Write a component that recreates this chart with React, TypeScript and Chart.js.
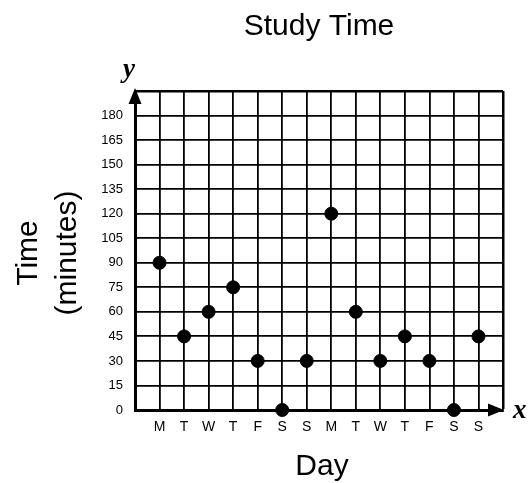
import React, { useEffect, useRef } from "react";
import { Chart, registerables } from "chart.js";

Chart.register(...registerables);

const days = ["M", "T", "W", "T", "F", "S", "S", "M", "T", "W", "T", "F", "S", "S"];
const minutes = [90, 45, 60, 75, 30, 0, 30, 120, 60, 30, 45, 30, 0, 45];
const yTickMax = 180;
const yStep = 15;

const SANS = "'Liberation Sans', Arial, Helvetica, sans-serif";
const SERIF = "'Liberation Serif', 'Times New Roman', serif";

const decorPlugin = {
  id: "decor",
  afterDraw(chart: any) {
    const { ctx, chartArea } = chart;
    const { left, right, top, bottom } = chartArea;
    ctx.save();
    ctx.fillStyle = "#000";
    // arrows
    ctx.beginPath();
    ctx.moveTo(left, top - 3);
    ctx.lineTo(left - 6.5, top + 13);
    ctx.lineTo(left + 6.5, top + 13);
    ctx.closePath();
    ctx.fill();
    ctx.beginPath();
    ctx.moveTo(right + 1, bottom);
    ctx.lineTo(right - 15, bottom - 6.5);
    ctx.lineTo(right - 15, bottom + 6.5);
    ctx.closePath();
    ctx.fill();
    // title
    ctx.textAlign = "center";
    ctx.textBaseline = "alphabetic";
    ctx.font = `30px ${SANS}`;
    ctx.fillText("Study Time", (left + right) / 2, 35);
    ctx.fillText("Day", (left + right) / 2 + 3, 475);
    // y title
    ctx.save();
    ctx.translate(37, 253);
    ctx.rotate(-Math.PI / 2);
    ctx.fillText("Time", 0, 0);
    ctx.restore();
    ctx.save();
    ctx.translate(76, 253);
    ctx.rotate(-Math.PI / 2);
    ctx.fillText("(minutes)", 0, 0);
    ctx.restore();
    // axis letters
    ctx.font = `italic bold 27px ${SERIF}`;
    ctx.textAlign = "center";
    ctx.fillText("y", left - 6, 77);
    ctx.textAlign = "left";
    ctx.fillText("x", right + 10, bottom + 8);
    ctx.restore();
  },
};

export default function App() {
  const ref = useRef<HTMLCanvasElement | null>(null);
  useEffect(() => {
    if (!ref.current) return;
    const chart = new Chart(ref.current, {
      type: "scatter",
      data: {
        datasets: [
          {
            data: minutes.map((v, i) => ({ x: i, y: v })),
            backgroundColor: "#000",
            borderColor: "#000",
            pointRadius: 6.5,
            pointHoverRadius: 6.5,
            clip: false as any,
          },
        ],
      },
      options: {
        animation: false,
        responsive: true,
        maintainAspectRatio: false,
        layout: { padding: { top: 91, right: 26, left: 0, bottom: 0 } },
        plugins: { legend: { display: false }, tooltip: { enabled: false }, title: { display: false } },
        scales: {
          x: {
            type: "linear",
            min: -1,
            max: days.length,
            afterFit(scale: any) {
              scale.height = 73;
            },
            ticks: {
              stepSize: 1,
              autoSkip: false,
              maxRotation: 0,
              padding: 9,
              color: "#000",
              font: { family: SANS, size: 14 },
              callback: (v: any) => {
                const i = Number(v);
                return i >= 0 && i < days.length ? days[i] : "";
              },
            },
            grid: {
              color: "#000",
              drawTicks: false,
              lineWidth: (c: any) => (c.tick && c.tick.value === days.length ? 2.5 : 1.8),
            },
            border: { display: true, color: "#000", width: 3 },
          },
          y: {
            type: "linear",
            min: 0,
            max: yTickMax + yStep,
            afterFit(scale: any) {
              scale.width = 135;
            },
            ticks: {
              stepSize: yStep,
              padding: 12,
              color: "#000",
              font: { family: SANS, size: 13 },
              callback: (v: any) => (Number(v) <= yTickMax ? String(v) : ""),
            },
            grid: {
              color: "#000",
              drawTicks: false,
              lineWidth: (c: any) => (c.tick && c.tick.value === yTickMax + yStep ? 2.5 : 1.8),
            },
            border: { display: true, color: "#000", width: 3 },
          },
        },
      },
      plugins: [decorPlugin],
    });
    return () => chart.destroy();
  }, []);
  return (
    <div style={{ position: "absolute", left: 0, top: 0, width: 529, height: 483, background: "#fff" }}>
      <canvas ref={ref} />
    </div>
  );
}
